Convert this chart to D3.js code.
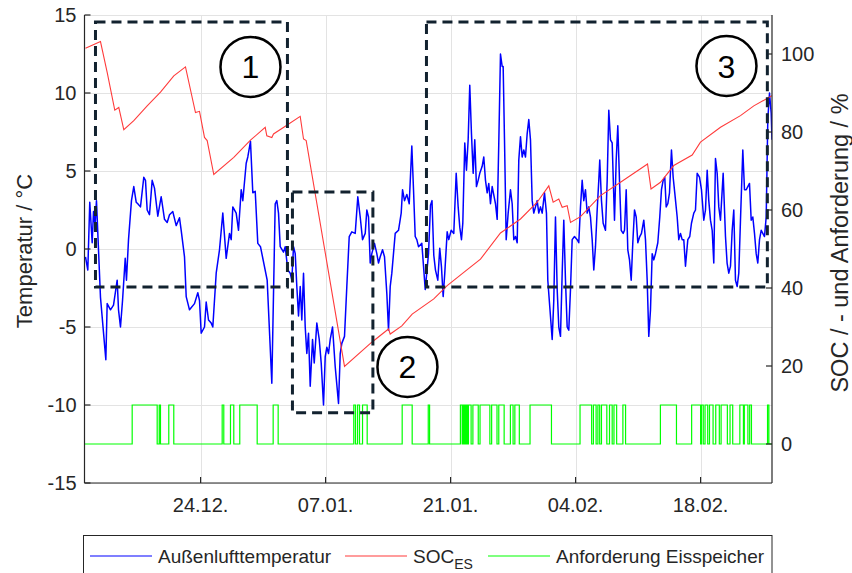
<!DOCTYPE html>
<html>
<head>
<meta charset="utf-8">
<script src="https://cdn.jsdelivr.net/npm/d3@7"></script>
<style>
  body { margin: 0; background: #fff; }
  text { font-family: "Liberation Sans", Arial, sans-serif; fill: #262626; }
</style>
</head>
<body>
<div id="chart"></div>
<script>
// days after 11.12.2017 00:00
const startDay = new Date(2017, 11, 11);
const endDayOffset = 77;

const tempDays = [0.11,0.37,0.59,0.86,1.01,1.18,1.34,1.79,2.39,2.54,2.91,3.25,3.66,3.81,4.03,4.26,4.56,4.70,4.93,5.26,5.52,5.79,5.97,6.27,6.64,6.83,7.02,7.28,7.58,7.84,8.21,8.59,8.96,9.26,9.52,9.89,10.27,10.64,10.83,11.2,11.39,11.76,12.32,12.69,12.88,13.07,13.44,13.63,13.89,14.19,14.37,14.75,15.12,15.49,15.87,16.24,16.43,16.61,16.99,17.25,17.55,17.73,18.11,18.29,18.59,18.85,19.12,19.41,19.71,20.46,20.98,21.36,21.54,21.73,21.92,22.29,22.48,22.77,23.04,23.22,23.41,23.60,23.78,23.97,24.16,24.34,24.53,24.72,24.90,25.09,25.28,25.54,25.73,26.02,26.29,26.51,26.77,26.96,27.14,27.33,27.52,27.78,28.08,28.45,28.64,28.82,29.12,29.38,29.65,29.94,30.32,30.61,30.88,31.14,31.44,31.62,31.81,32.0,32.18,32.48,32.74,32.93,33.12,33.38,33.60,33.86,34.05,34.24,34.42,34.80,35.17,35.47,35.62,35.84,36.10,36.37,36.66,36.85,37.04,37.22,37.41,37.78,37.97,38.16,38.53,38.75,38.92,39.12,39.31,39.57,39.79,39.98,40.17,40.35,40.62,40.80,41.07,41.36,41.63,41.85,42.03,42.22,42.37,42.59,42.78,42.97,43.15,43.34,43.53,43.71,43.90,44.09,44.27,44.54,44.72,44.91,45.10,45.28,45.47,45.66,46.03,46.22,46.40,46.59,46.78,46.89,47.04,47.23,47.45,47.71,47.90,48.08,48.27,48.46,48.64,48.83,49.02,49.20,49.39,49.58,49.76,49.95,50.14,50.32,50.51,50.70,50.88,51.07,51.26,51.52,51.74,51.89,52.11,52.38,52.56,52.75,52.94,53.12,53.31,53.50,53.68,53.87,54.06,54.24,54.43,54.62,54.88,55.18,55.36,55.55,55.74,55.92,56.11,56.30,56.48,56.67,56.86,57.04,57.23,57.42,57.60,57.71,57.90,58.09,58.35,58.54,58.72,58.91,59.10,59.36,59.55,59.73,59.92,60.11,60.33,60.48,60.67,60.85,61.04,61.23,61.41,61.60,61.79,61.97,62.19,62.38,62.64,62.83,63.02,63.20,63.39,63.58,63.76,63.95,64.21,64.43,64.62,64.81,64.99,65.15,65.33,65.52,65.74,65.93,66.11,66.38,66.56,66.75,66.94,67.12,67.31,67.57,67.79,67.98,68.24,68.43,68.62,68.88,69.10,69.36,69.55,69.74,69.92,70.11,70.30,70.48,70.67,70.86,71.04,71.23,71.53,71.79,71.97,72.16,72.35,72.54,72.72,72.91,73.10,73.28,73.47,73.73,73.92,74.11,74.29,74.48,74.67,74.85,75.04,75.23,75.41,75.60,75.79,75.97,76.16,76.35,76.53,76.72,76.91,77.0];
const tempVals = [-0.5,-1.35,3.0,0.4,2.4,1.5,3.1,-3.1,-7.1,-3.5,-3.9,-3.6,-2.0,-3.9,-5.0,-3.3,-0.6,-2.0,0.6,3.1,4.0,3.0,2.9,2.7,4.6,4.4,2.5,2.2,4.4,3.9,2.1,3.35,1.9,1.7,2.2,2.4,1.5,2.0,1.2,-0.5,-3.05,-3.9,-3.5,-2.8,-3.3,-5.4,-5.0,-3.4,-4.55,-4.75,-5.0,-1.55,-0.05,2.3,-0.6,1.0,0.6,2.7,2.3,1.2,3.8,3.1,5.5,5.9,6.9,3.6,3.7,0.36,0.15,-2.0,-8.6,2.9,3.1,2.3,0.15,-0.2,0.15,-1.35,-1.55,-2.0,0.15,-0.3,-2.4,-4.3,-2.4,-4.55,-1.55,-5.0,-6.7,-5.4,-8.8,-5.8,-7.3,-4.75,-5.8,-7.3,-10.0,-6.9,-6.3,-6.7,-5.8,-5.0,-7.55,-9.9,-6.7,-6.05,-5.6,-2.4,0.8,1.1,1.0,3.35,2.05,0.6,1.0,2.5,2.05,-0.9,-0.3,0.36,-0.3,-0.9,-0.5,-0.05,-0.5,-2.85,-5.2,-2.4,-1.55,1.0,1.2,2.3,3.8,3.1,3.5,2.9,6.6,3.8,0.8,0.6,0.15,0.36,-1.1,-2.6,-0.3,2.8,3.1,-0.4,-1.35,-2.0,0.05,-1.15,-3.05,-1.55,1.1,0.6,1.2,1.0,4.85,2.7,1.4,0.6,1.65,6.8,5.05,7.0,10.5,7.4,4.85,7.0,4.0,4.4,4.85,5.3,5.9,4.4,3.6,4.2,2.9,4.0,2.9,1.9,6.8,12.5,11.7,11.7,7.0,0.6,2.3,3.8,2.9,0.6,0.8,0.4,5.7,7.2,5.9,6.35,5.9,7.4,8.3,7.0,3.1,2.3,2.7,3.1,2.3,2.7,2.3,3.6,2.3,-2.0,-3.7,-5.8,-3.3,2.05,-2.6,-5.0,-5.6,-1.55,1.85,-2.0,-5.0,-5.2,-2.6,0.6,0.8,0.6,0.4,2.7,4.4,3.1,3.8,2.3,2.7,2.05,0.6,-1.35,0.15,2.5,4.4,5.7,3.1,1.65,1.2,4.4,8.9,7.0,6.8,1.85,5.7,7.9,4.4,1.2,1.0,1.2,3.8,-0.05,-0.7,-2.0,0.4,2.5,2.05,0.4,0.8,1.0,1.85,0.6,-2.0,-5.6,-3.9,-0.3,-0.7,-0.3,0.4,2.05,3.8,4.4,4.6,2.7,2.9,3.6,6.35,4.6,3.6,2.05,0.6,1.0,0.6,0.6,-1.1,0.6,0.8,1.65,2.3,2.5,4.85,4.6,3.8,1.85,2.5,5.05,3.1,1.85,1.2,-0.9,5.8,4.85,2.7,1.85,4.85,0.8,-0.9,-1.55,-1.1,1.2,2.5,-2.0,-2.4,-1.55,1.85,6.35,3.8,3.8,4.0,4.2,1.85,2.05,1.0,-0.3,-0.9,0.6,1.2,1.0,0.8,2.05,8.3,10.0,8.7,7.0];

const socDays = [0.11,1.79,2.54,3.39,3.84,4.40,5.52,7.02,8.51,10.0,11.31,12.43,12.88,13.44,13.74,14.48,16.72,18.59,20.24,20.42,20.98,21.17,22.32,24.16,24.53,24.83,29.12,32.18,34.05,34.24,35.54,36.70,39.12,40.62,42.48,44.35,46.59,48.83,50.70,52.0,52.49,53.12,53.50,54.06,54.43,55.55,57.79,60.03,63.06,63.45,64.51,66.0,68.06,68.99,71.23,73.47,74.96,77.0];
const socVals = [101.5,103.2,95.3,85.6,86.3,80.6,82.9,86.7,90.2,94.4,96.7,85.0,85.3,78.6,77.8,69.1,73.5,77.9,81.2,79.0,78.6,79.5,81.2,84.0,78.2,77.8,19.9,26.1,29.5,28.2,30.3,33.3,37.2,40.6,44.0,47.4,54.1,57.7,62.0,66.2,62.0,62.8,60.7,61.1,56.8,58.3,63.7,67.1,71.8,65.4,67.1,71.4,74.1,77.4,81.2,84.2,86.7,89.3];

// Anforderung Eisspeicher: on/off days (value 10 while on, else 0)
const reqOn  = [5.34,8.37,9.44,15.42,16.35,17.39,21.13,30.16,30.58,31.14,35.58,38.5,42.1,42.4,42.6,42.8,43.0,43.5,44.3,45.6,46.4,47.7,48.2,49.9,55.5,57.0,57.5,57.9,58.8,59.3,60.3,64.5,68.0,69.1,69.5,70.0,70.7,71.3,72.3,73.4,73.9,74.5,76.5];
const reqOff = [8.14,8.51,10.0,15.6,16.72,19.34,21.69,30.35,30.8,31.66,36.7,38.65,42.3,42.5,42.7,42.9,43.3,44.1,45.4,46.2,47.0,48.0,48.7,52.3,56.8,57.3,57.7,58.5,59.1,59.6,60.6,66.3,69.0,69.3,69.8,70.4,71.1,72.0,72.6,73.8,74.3,74.7,76.65];

const xTicks = [new Date(2017, 11, 24), new Date(2018, 0, 7), new Date(2018, 0, 21), new Date(2018, 1, 4), new Date(2018, 1, 18)];
const tempTicks = [-15, -10, -5, 0, 5, 10, 15];
const socTicks = [0, 20, 40, 60, 80, 100];

// annotation boxes [dayFrom, dayTo, tempTop, tempBottom] and circled numbers [day, temp, label]
const boxes = [[1.23, 22.73, 14.55, -2.44], [23.29, 32.3, 3.65, -10.5], [38.3, 76.48, 14.55, -2.44]];
const marks = [[18.59, 11.67, "1"], [36.17, -7.56, "2"], [71.9, 11.73, "3"]];

const W = 852, H = 573;
const m = { left: 84.5, right: 772, top: 15, bottom: 483 };
const toDate = (d) => new Date(startDay.getTime() + d * 864e5);

const x = d3.scaleTime()
  .domain([startDay, toDate(endDayOffset)])
  .range([m.left, m.right]);
const yT = d3.scaleLinear().domain([-15, 15]).range([m.bottom, m.top]);
const yS = d3.scaleLinear().domain([-10, 110]).range([m.bottom, m.top]);

const svg = d3.select("#chart").append("svg")
  .attr("width", W)
  .attr("height", H)
  .attr("viewBox", [0, 0, W, H]);

svg.append("rect").attr("width", W).attr("height", H).attr("fill", "#fff");

svg.append("clipPath").attr("id", "plot")
  .append("rect")
  .attr("x", m.left).attr("y", m.top)
  .attr("width", m.right - m.left).attr("height", m.bottom - m.top);

// grid
const grid = svg.append("g").attr("stroke", "#e3e3e3").attr("stroke-width", 1);
grid.selectAll(".gx").data(xTicks).join("line")
  .attr("x1", (d) => Math.round(x(d)) + 0.5).attr("x2", (d) => Math.round(x(d)) + 0.5)
  .attr("y1", m.top).attr("y2", m.bottom);
grid.selectAll(".gy").data(tempTicks).join("line")
  .attr("x1", m.left).attr("x2", m.right)
  .attr("y1", (d) => Math.round(yT(d)) + 0.5).attr("y2", (d) => Math.round(yT(d)) + 0.5);

// series
const plot = svg.append("g").attr("clip-path", "url(#plot)");

const reqPts = [[0, 0]];
reqOn.forEach((on, i) => {
  reqPts.push([on, 0], [on, 10], [reqOff[i], 10], [reqOff[i], 0]);
});
reqPts.push([endDayOffset, 0]);

const lineS = d3.line().x((d) => x(toDate(d[0]))).y((d) => yS(d[1]));
const lineT = d3.line().x((d) => x(toDate(d[0]))).y((d) => yT(d[1]));

plot.append("path")
  .attr("fill", "none").attr("stroke", "#00ff00").attr("stroke-width", 1.2)
  .attr("d", lineS(reqPts));

plot.append("path")
  .attr("fill", "none").attr("stroke", "#0000ff").attr("stroke-width", 1.5)
  .attr("stroke-linejoin", "round")
  .attr("d", lineT(tempDays.map((d, i) => [d, tempVals[i]])));

plot.append("path")
  .attr("fill", "none").attr("stroke", "#ff3b3b").attr("stroke-width", 1.1)
  .attr("d", lineS(socDays.map((d, i) => [d, socVals[i]])));

// axes (inward ticks)
const axisCol = "#262626";
const ax = svg.append("g").attr("stroke", axisCol).attr("stroke-width", 1.2).attr("fill", "none");
ax.append("line").attr("x1", m.left).attr("x2", m.left).attr("y1", m.top).attr("y2", m.bottom);
ax.append("line").attr("x1", m.right).attr("x2", m.right).attr("y1", m.top).attr("y2", m.bottom);
ax.append("line").attr("x1", m.left).attr("x2", m.right).attr("y1", m.bottom).attr("y2", m.bottom);
ax.selectAll(".tl").data(tempTicks).join("line")
  .attr("x1", m.left).attr("x2", m.left + 6)
  .attr("y1", (d) => yT(d)).attr("y2", (d) => yT(d));
ax.selectAll(".tr").data(socTicks).join("line")
  .attr("x1", m.right).attr("x2", m.right - 6)
  .attr("y1", (d) => yS(d)).attr("y2", (d) => yS(d));
ax.selectAll(".tb").data(xTicks).join("line")
  .attr("x1", (d) => x(d)).attr("x2", (d) => x(d))
  .attr("y1", m.bottom).attr("y2", m.bottom - 6);

const fmt = d3.timeFormat("%d.%m.");
svg.append("g").selectAll("text").data(tempTicks).join("text")
  .attr("x", m.left - 8).attr("y", (d) => yT(d)).attr("dy", "0.36em")
  .attr("text-anchor", "end").attr("font-size", 20)
  .text((d) => d);
svg.append("g").selectAll("text").data(socTicks).join("text")
  .attr("x", m.right + 9).attr("y", (d) => yS(d)).attr("dy", "0.36em")
  .attr("font-size", 20)
  .text((d) => d);
svg.append("g").selectAll("text").data(xTicks).join("text")
  .attr("x", (d) => x(d)).attr("y", 512)
  .attr("text-anchor", "middle").attr("font-size", 20)
  .text((d) => fmt(d));

svg.append("text")
  .attr("transform", `translate(32,${(m.top + m.bottom) / 2 + 2}) rotate(-90)`)
  .attr("text-anchor", "middle").attr("font-size", 22)
  .text("Temperatur / °C");
svg.append("text")
  .attr("transform", `translate(848,${(m.top + m.bottom) / 2 - 6}) rotate(-90)`)
  .attr("text-anchor", "middle").attr("font-size", 23.5)
  .text("SOC / - und Anforderung / %");

// annotations
const ann = svg.append("g");
ann.selectAll("rect").data(boxes).join("rect")
  .attr("x", (d) => x(toDate(d[0]))).attr("y", (d) => yT(d[2]))
  .attr("width", (d) => x(toDate(d[1])) - x(toDate(d[0])))
  .attr("height", (d) => yT(d[3]) - yT(d[2]))
  .attr("fill", "none").attr("stroke", "#12222f").attr("stroke-width", 3)
  .attr("stroke-dasharray", "10,6");
const mk = ann.selectAll("g.mk").data(marks).join("g")
  .attr("transform", (d) => `translate(${x(toDate(d[0]))},${yT(d[1])})`);
mk.append("circle").attr("r", 30).attr("fill", "none")
  .attr("stroke", "#000").attr("stroke-width", 2.5);
mk.append("text").attr("text-anchor", "middle").attr("dy", "0.36em")
  .attr("font-size", 32).style("fill", "#000")
  .text((d) => d[2]);

// legend
const lg = svg.append("g");
lg.append("rect").attr("x", 83.5).attr("y", 535.5).attr("width", 688.5).attr("height", 50)
  .attr("fill", "#fff").attr("stroke", axisCol).attr("stroke-width", 1);
const items = [
  { c: "#0000ff", x0: 90, label: "Außenlufttemperatur" },
  { c: "#ff3b3b", x0: 345, label: "SOC", sub: "ES" },
  { c: "#00ff00", x0: 488, label: "Anforderung Eisspeicher" },
];
items.forEach((it) => {
  lg.append("line").attr("x1", it.x0).attr("x2", it.x0 + 62).attr("y1", 556).attr("y2", 556)
    .attr("stroke", it.c).attr("stroke-width", 1.2);
  const t = lg.append("text").attr("x", it.x0 + 68).attr("y", 563).attr("font-size", 19).text(it.label);
  if (it.sub) t.append("tspan").attr("font-size", 14).attr("dy", 6).text(it.sub);
});
</script>
</body>
</html>
